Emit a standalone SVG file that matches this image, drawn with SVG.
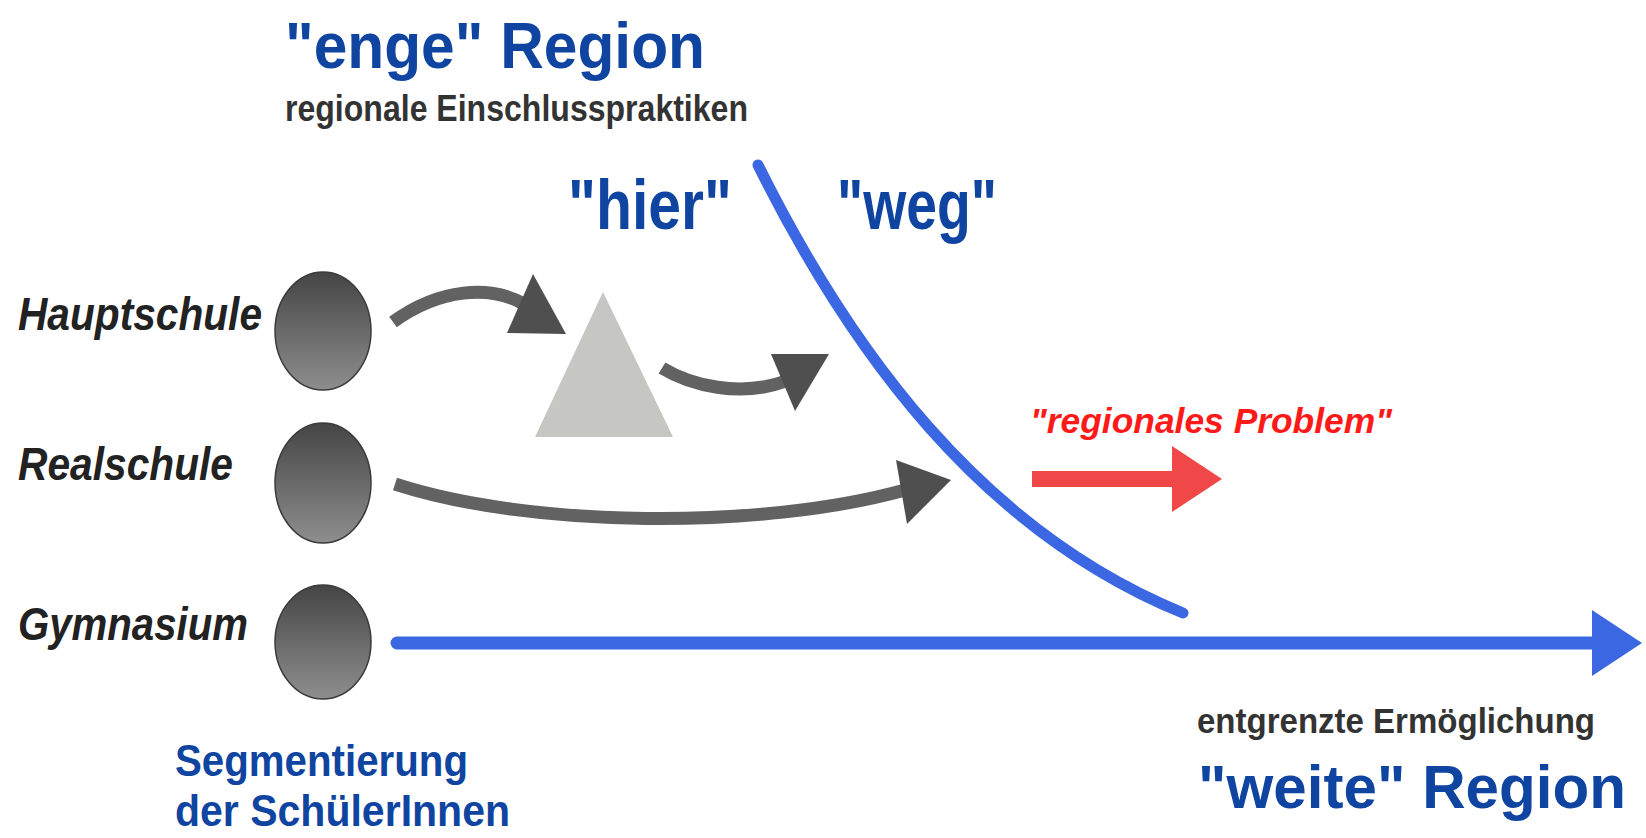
<svg xmlns="http://www.w3.org/2000/svg" width="1646" height="838" viewBox="0 0 1646 838">
<defs>
<linearGradient id="ballGrad" x1="0" y1="0" x2="0" y2="1">
<stop offset="0" stop-color="#454545"/>
<stop offset="1" stop-color="#8e8e8e"/>
</linearGradient>
<style>
.title{font-family:"Liberation Sans",Arial,sans-serif;font-weight:bold;fill:#0f45a0;}
.sub{font-family:"Liberation Sans",Arial,sans-serif;font-weight:bold;fill:#333333;}
.lbl{font-family:"Liberation Sans",Arial,sans-serif;font-weight:bold;font-style:italic;fill:#222222;font-size:47px;}
.ball{fill:url(#ballGrad);stroke:#3a3a3a;stroke-width:1.5;}
.gshaft{fill:none;stroke:#626262;stroke-width:13;stroke-linecap:butt;}
.ghead{fill:#4f4f4f;}
.blue{fill:none;stroke:#3c67e3;stroke-linecap:round;}
</style>
</defs>
<rect width="1646" height="838" fill="#ffffff"/>

<g id="title-enge">
<text class="title" x="285" y="68" font-size="64" textLength="420" lengthAdjust="spacingAndGlyphs">"enge" Region</text>
<text class="sub" x="285" y="121" font-size="36" textLength="463" lengthAdjust="spacingAndGlyphs">regionale Einschlusspraktiken</text>
</g>

<g id="label-hier">
<text class="title" x="568" y="229" font-size="70" textLength="164" lengthAdjust="spacingAndGlyphs">"hier"</text>
</g>
<g id="label-weg">
<text class="title" x="837" y="229" font-size="70" textLength="160" lengthAdjust="spacingAndGlyphs">"weg"</text>
</g>

<g id="node-hauptschule">
<text class="lbl" x="18" y="330" textLength="244" lengthAdjust="spacingAndGlyphs">Hauptschule</text>
<ellipse class="ball" cx="323" cy="331" rx="48" ry="59"/>
</g>
<g id="node-realschule">
<text class="lbl" x="18" y="480" textLength="215" lengthAdjust="spacingAndGlyphs">Realschule</text>
<ellipse class="ball" cx="323" cy="483" rx="48" ry="60"/>
</g>
<g id="node-gymnasium">
<text class="lbl" x="18" y="640" textLength="230" lengthAdjust="spacingAndGlyphs">Gymnasium</text>
<ellipse class="ball" cx="323" cy="642" rx="48" ry="57"/>
</g>

<g id="node-triangle">
<polygon points="603,292 673,437 535,437" fill="#c6c6c2"/>
</g>

<g id="connectors">
<path class="gshaft" d="M393,322 C440,288 490,285 524,304"/>
<polygon class="ghead" points="533,274 507,333 566,334"/>
<path class="gshaft" d="M662,368 C690,385 740,398 786,381"/>
<polygon class="ghead" points="771,354 795,411 829,354"/>
<path class="gshaft" d="M395,484 C530,528 760,530 905,490" stroke-width="14"/>
<polygon class="ghead" points="896,460 907,524 951,480"/>
<path class="blue" stroke-width="11" d="M758,165 C850,350 980,530 1183,613"/>
<line class="blue" stroke-width="13" x1="397" y1="643" x2="1596" y2="643"/>
<polygon points="1592,610 1592,676 1642,643" fill="#3c67e3"/>
<line x1="1032" y1="479" x2="1176" y2="479" stroke="#f04848" stroke-width="16"/>
<polygon points="1172,446 1172,512 1222,479" fill="#f04848"/>
</g>

<g id="label-problem">
<text x="1030" y="433" font-family="Liberation Sans, Arial, sans-serif" font-weight="bold" font-style="italic" font-size="35" fill="#ff1a1a" textLength="362" lengthAdjust="spacingAndGlyphs">"regionales Problem"</text>
</g>

<g id="title-weite">
<text class="sub" x="1197" y="733" font-size="35" textLength="398" lengthAdjust="spacingAndGlyphs">entgrenzte Ermöglichung</text>
<text class="title" x="1198" y="808" font-size="62" textLength="428" lengthAdjust="spacingAndGlyphs">"weite" Region</text>
</g>

<g id="label-segmentierung">
<text class="title" x="175" y="776" font-size="45" textLength="293" lengthAdjust="spacingAndGlyphs">Segmentierung</text>
<text class="title" x="175" y="826" font-size="45" textLength="335" lengthAdjust="spacingAndGlyphs">der SchülerInnen</text>
</g>
</svg>
